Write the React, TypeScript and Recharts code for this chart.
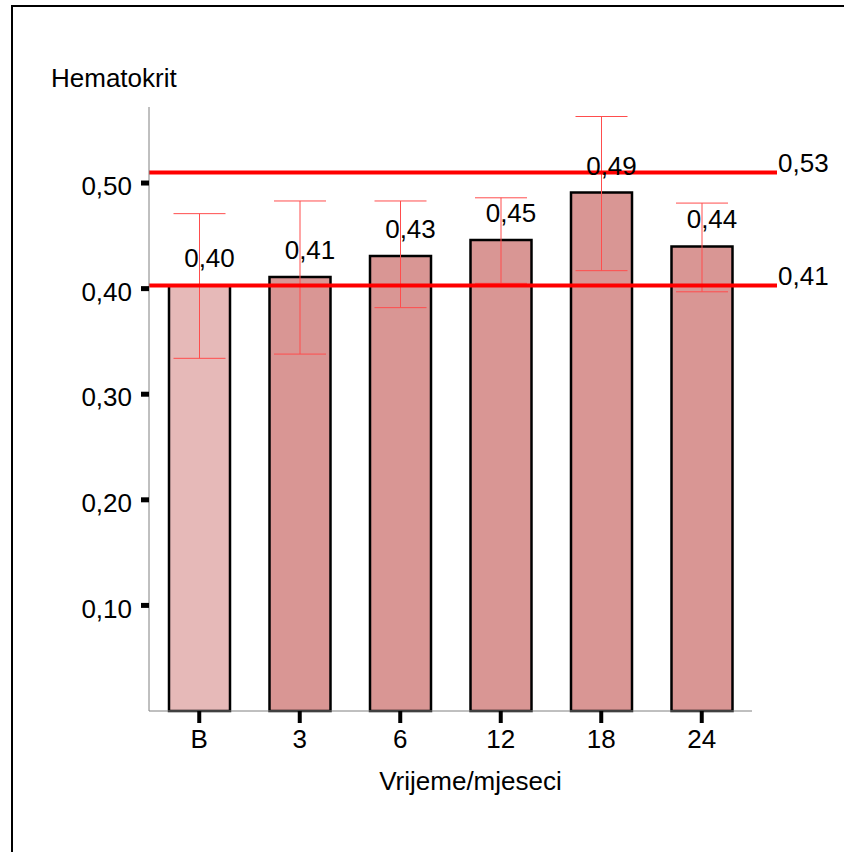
import {
  ComposedChart,
  Bar,
  Cell,
  ErrorBar,
  LabelList,
  ReferenceLine,
  XAxis,
  YAxis,
  Label,
} from 'recharts'

const months = ['B', '3', '6', '12', '18', '24']
const hematocrit = [0.403, 0.411, 0.431, 0.446, 0.491, 0.44]
const errLow = [0.069, 0.073, 0.049, 0.041, 0.074, 0.043]
const errHigh = [0.068, 0.072, 0.052, 0.04, 0.072, 0.041]
const yTicks = [0.1, 0.2, 0.3, 0.4, 0.5]
const limitValues = [0.51, 0.403]
const limitLabels = ['0,53', '0,41']

const data = months.map((m, i) => ({
  month: m,
  value: hematocrit[i],
  err: [errLow[i], errHigh[i]],
}))

const FONT = '"Liberation Sans", Arial, sans-serif'
const fmt = (v: number) => v.toFixed(2).replace('.', ',')

const ValueLabel = (props: any) => {
  const { x, y, width, value } = props
  return (
    <text x={x + width / 2 + 10} y={y - 18} textAnchor="middle" fontSize={26} fontFamily={FONT} fill="#000">
      {fmt(value)}
    </text>
  )
}

const limitShape = (label: string) => (p: any) => (
  <g>
    <line x1={p.x1} y1={p.y1} x2={p.x2 + 25} y2={p.y2} stroke="#ff0000" strokeWidth={4} />
    <text x={p.x2 + 26} y={p.y1} fontSize={26} fontFamily={FONT} fill="#000">
      {label}
    </text>
  </g>
)

const App = () => {
  return (
    <div style={{ position: 'absolute', left: 0, top: 0, width: 844, height: 852, background: '#fff' }}>
      <div
        style={{
          position: 'absolute',
          left: 11,
          top: 5,
          right: 0,
          bottom: 0,
          borderTop: '2px solid #000',
          borderLeft: '2px solid #000',
        }}
      />
      <ComposedChart
        width={844}
        height={852}
        data={data}
        margin={{ top: 107, right: 92, bottom: 0, left: 0 }}
        style={{ position: 'absolute', left: 0, top: 0 }}
      >
        <XAxis
          dataKey="month"
          height={141}
          stroke="#808080"
          tick={{ fill: '#000', fontSize: 26, fontFamily: FONT }}
          tickLine={{ stroke: '#000', strokeWidth: 4 }}
          tickSize={12}
          tickMargin={7}
        >
          <Label
            content={({ viewBox }: any) => (
              <text
                x={viewBox.x + viewBox.width / 2 + 20}
                y={790}
                textAnchor="middle"
                fontSize={26}
                fontFamily={FONT}
                fill="#000"
              >
                Vrijeme/mjeseci
              </text>
            )}
          />
        </XAxis>
        <YAxis
          width={149}
          domain={[0, 0.572]}
          ticks={yTicks}
          tickFormatter={fmt}
          stroke="#808080"
          tick={{ fill: '#000', fontSize: 26, fontFamily: FONT, dy: 3 }}
          tickLine={{ stroke: '#000', strokeWidth: 5 }}
          tickSize={8}
          tickMargin={9}
        >
          <Label
            content={() => (
              <text x={51} y={87} fontSize={26} fontFamily={FONT} fill="#000">
                Hematokrit
              </text>
            )}
          />
        </YAxis>
        <Bar dataKey="value" barSize={61} stroke="#000" strokeWidth={2.5} isAnimationActive={false}>
          {data.map((d, i) => (
            <Cell key={d.month} fill={i === 0 ? '#e6b9b8' : '#d99694'} />
          ))}
          <ErrorBar dataKey="err" width={26} stroke="#ff4d4d" strokeWidth={1} direction="y" />
          <LabelList dataKey="value" content={ValueLabel} />
        </Bar>
        {limitValues.map((v, i) => (
          <ReferenceLine key={v} y={v} shape={limitShape(limitLabels[i])} />
        ))}
      </ComposedChart>
    </div>
  )
}

export default App
